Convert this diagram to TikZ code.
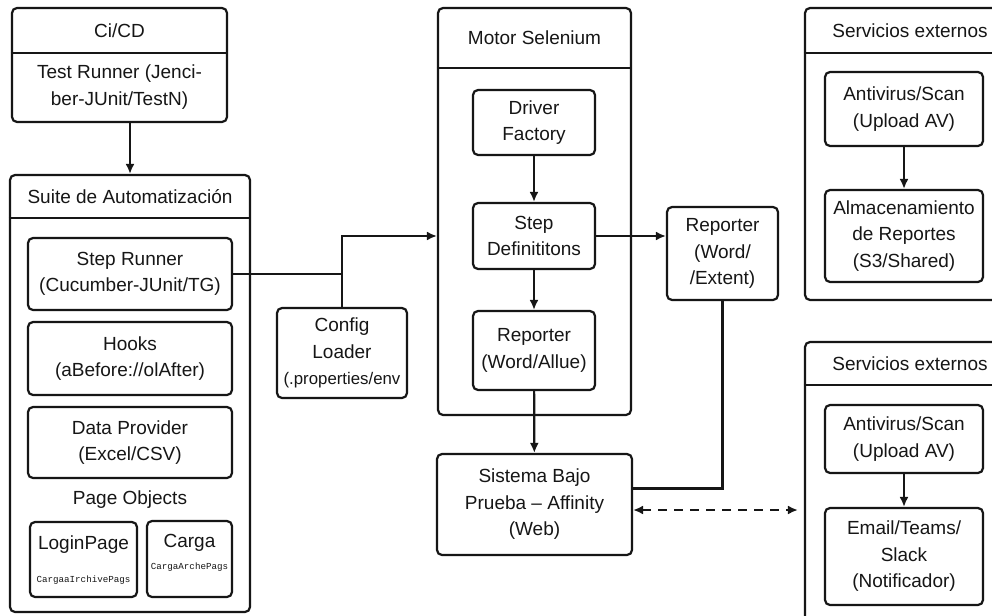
\documentclass[tikz,border=0pt]{standalone}
\usepackage{fontspec}
\setmainfont{Liberation Sans}
\newfontfamily\dgmono{Liberation Mono}
\usetikzlibrary{arrows.meta}
\newcommand{\dgfont}{\fontsize{19}{26.5}\selectfont}
\definecolor{lc}{HTML}{161616}
\definecolor{tc}{HTML}{161616}
\begin{document}
\begin{tikzpicture}[x=1pt,y=-1pt,
  box/.style={draw=lc, line width=2.2pt, rounded corners=5pt, fill=white, align=center, inner sep=0pt, text=tc, font=\dgfont},
  cont/.style={draw=lc, line width=2.2pt, rounded corners=5pt, inner sep=0pt},
  divline/.style={draw=lc, line width=2.2pt},
  txt/.style={text=tc, font=\dgfont, align=center, inner sep=0pt},
  small/.style={text=tc, font=\dgmono\fontsize{9.2}{10}\selectfont, inner sep=0pt},
  conn/.style={draw=lc, line width=2.2pt},
  arr/.style={conn, -{Latex[length=10pt,width=9pt]}},
  darr/.style={conn, dashed, dash pattern=on 9pt off 7pt, {Latex[length=10pt,width=9pt]}-{Latex[length=10pt,width=9pt]}}]
\useasboundingbox (0,0) rectangle (992,615);
\fill[white] (0,0) rectangle (992,615);
\clip (0,0) rectangle (992,615);

% Ci/CD
\node[cont, minimum width=215pt, minimum height=114pt] (ci) at (119.5,65) {};
\draw[divline] (ci.west |- 0,53) -- (ci.east |- 0,53);
\node[txt] (citit) at (119.5,31) {Ci/CD};
\node[txt] (citr) at (119.5,87) {Test Runner (Jenci-\\ber-JUnit/TestN)};

% Suite
\node[cont, minimum width=240pt, minimum height=437pt] (suite) at (130,393.5) {};
\draw[divline] (suite.west |- 0,218) -- (suite.east |- 0,218);
\node[txt] (suitetit) at (130,196.5) {Suite de Automatización};
\node[box, minimum width=204pt, minimum height=72pt] (stepr) at (130,274) {Step Runner\\(Cucumber-JUnit/TG)};
\node[box, minimum width=204pt, minimum height=73pt] (hooks) at (130,358.5) {Hooks\\(aBefore://olAfter)};
\node[box, minimum width=204pt, minimum height=71pt] (data) at (130,442.5) {Data Provider\\(Excel/CSV)};
\node[txt] (pageobj) at (130,500) {Page Objects};
\node[box, minimum width=107pt, minimum height=75pt] (login) at (83.5,559.5) {};
\node[txt] (logint) at (83.5,545) {LoginPage};
\node[small] (logins) at (83.5,580) {CargaaIrchivePags};
\node[box, minimum width=85pt, minimum height=76pt] (carga) at (189.5,559) {};
\node[txt] (cargat) at (189.5,543) {Carga};
\node[small] (cargas) at (189.5,567) {CargaArchePags};

% Config loader
\node[box, minimum width=130pt, minimum height=90pt] (config) at (342,353) {Config\\Loader\\{\fontsize{16.8}{22}\selectfont(.properties/env}};

% Motor Selenium
\node[cont, minimum width=193pt, minimum height=407pt] (motor) at (534.5,211.5) {};
\draw[divline] (motor.west |- 0,68) -- (motor.east |- 0,68);
\node[txt] (motortit) at (534.5,38) {Motor Selenium};
\node[box, minimum width=122pt, minimum height=65pt] (driver) at (534,122.5) {Driver\\Factory};
\node[box, minimum width=122pt, minimum height=66pt] (stepd) at (534,236) {Step\\Definititons};
\node[box, minimum width=122pt, minimum height=79pt] (rep1) at (534,350.5) {Reporter\\(Word/Allue)};

% Sistema
\node[box, minimum width=195pt, minimum height=101pt] (sis) at (534.5,504.5) {Sistema Bajo\\Prueba -- Affinity\\(Web)};

% Reporter 2
\node[box, minimum width=111pt, minimum height=93pt] (rep2) at (722.5,253.5) {Reporter\\(Word/\\/Extent)};

% Servicios externos 1
\node[cont, minimum width=210pt, minimum height=292pt] (ext1) at (910,154) {};
\draw[divline] (ext1.west |- 0,53) -- (ext1.east |- 0,53);
\node[txt] (ext1tit) at (910,31) {Servicios externos};
\node[box, minimum width=158pt, minimum height=74pt] (av1) at (904,109) {Antivirus/Scan\\(Upload AV)};
\node[box, minimum width=158pt, minimum height=92pt] (alm) at (904,236) {Almacenamiento\\de Reportes\\(S3/Shared)};

% Servicios externos 2
\node[cont, minimum width=210pt, minimum height=300pt] (ext2) at (910,492) {};
\draw[divline] (ext2.west |- 0,385) -- (ext2.east |- 0,385);
\node[txt] (ext2tit) at (910,364) {Servicios externos};
\node[box, minimum width=158pt, minimum height=68pt] (av2) at (904,439) {Antivirus/Scan\\(Upload AV)};
\node[box, minimum width=158pt, minimum height=97pt] (email) at (904,556.5) {Email/Teams/\\Slack\\(Notificador)};

% Connectors
\draw[arr] (ci.south -| suite.north) -- (suite.north);
\draw[conn] (stepr.east) -- (stepr.east -| config.north);
\draw[arr] (config.north) |- (motor.west |- stepd.east);
\draw[arr] (driver) -- (stepd);
\draw[arr] (stepd) -- (rep1);
\draw[arr] (rep1) -- (sis);
\draw[arr] (stepd.east) -- (stepd.east -| rep2.west);
\draw[conn] (rep2.south) |- ([yshift=16pt]sis.east);
\draw[darr, shorten >=6pt] ([yshift=-5.5pt]sis.east) -- ([yshift=-5.5pt]sis.east -| ext2.west);
\draw[arr] (av1) -- (alm);
\draw[arr] (av2) -- (email);
\end{tikzpicture}
\end{document}
